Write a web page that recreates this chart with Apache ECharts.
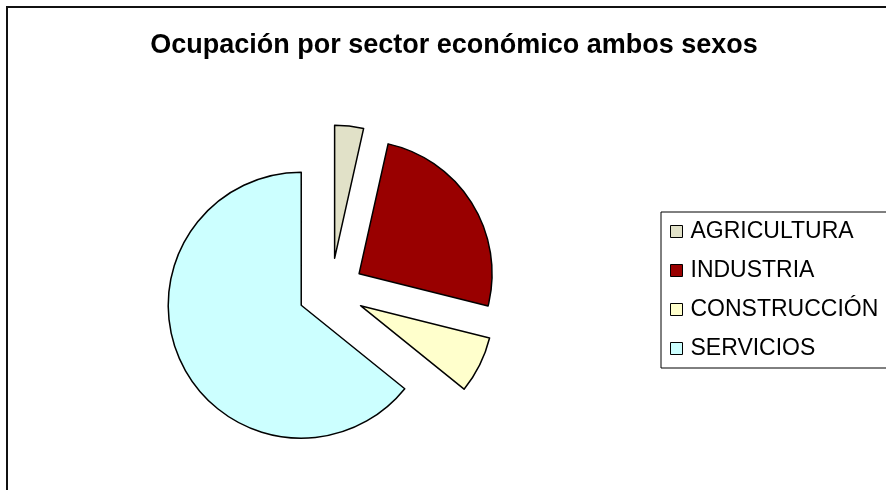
<!DOCTYPE html>
<html>
<head>
<meta charset="utf-8">
<script src="https://cdn.jsdelivr.net/npm/echarts@6/dist/echarts.min.js"></script>
<style>
html,body{margin:0;padding:0;background:#fff;}
#chart{width:886px;height:490px;}
</style>
</head>
<body>
<div id="chart"></div>
<script>
var titleText = 'Ocupación por sector económico ambos sexos';
var categories = ['AGRICULTURA', 'INDUSTRIA', 'CONSTRUCCIÓN', 'SERVICIOS'];
var values = [3.5, 25.4, 6.9, 64.2];
var colors = ['#E1E1C8', '#990000', '#FFFFCC', '#CCFFFF'];

var chart = echarts.init(document.getElementById('chart'), null, {renderer: 'canvas'});
var data = categories.map(function (c, i) {
  return {name: c, value: values[i], selected: true, itemStyle: {color: colors[i]}};
});
chart.setOption({
  animation: false,
  backgroundColor: '#fff',
  graphic: [{
    type: 'rect',
    shape: {x: 7, y: 7, width: 920, height: 520},
    style: {fill: 'none', stroke: '#111', lineWidth: 2},
    silent: true
  }],
  title: {
    text: titleText,
    left: 454,
    textAlign: 'center',
    top: 32,
    padding: 0,
    textStyle: {fontFamily: 'Liberation Sans, Arial, sans-serif', fontSize: 27, fontWeight: 'bold', color: '#000'}
  },
  legend: {
    orient: 'vertical',
    left: 661,
    top: 212,
    padding: [8, 40, 8, 9],
    itemWidth: 12,
    itemHeight: 12,
    itemGap: 16,
    icon: 'rect',
    selectedMode: false,
    borderColor: '#000',
    borderWidth: 1,
    itemStyle: {borderColor: '#000', borderWidth: 1},
    textStyle: {fontFamily: 'Liberation Sans, Arial, sans-serif', fontSize: 23, color: '#000', padding: [0, 0, 0, 3]},
    data: categories
  },
  series: [{
    type: 'pie',
    center: [331, 291],
    radius: 133,
    startAngle: 90,
    clockwise: true,
    selectedMode: 'multiple',
    selectedOffset: 33,
    label: {show: false},
    labelLine: {show: false},
    emphasis: {disabled: true},
    itemStyle: {borderColor: '#000', borderWidth: 1.5},
    data: data
  }]
});
</script>
</body>
</html>
